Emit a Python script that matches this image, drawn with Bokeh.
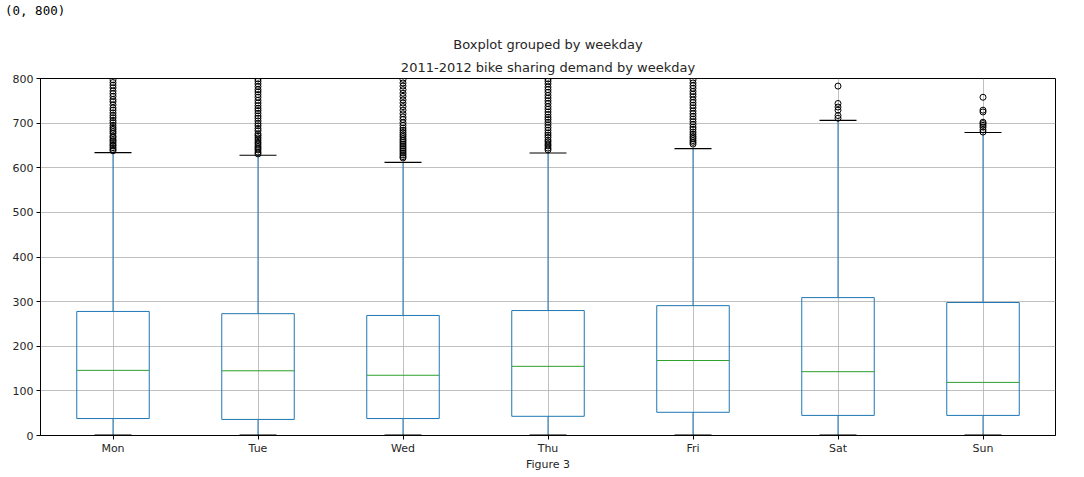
from bokeh.plotting import figure
from bokeh.models import FactorRange, Title, FixedTicker, Div
from bokeh.layouts import column
from bokeh.embed import file_html
from bokeh.resources import INLINE

days = ["Mon", "Tue", "Wed", "Thu", "Fri", "Sat", "Sun"]
q1 = [38, 36, 38, 43, 52, 45, 45]
median = [146, 145, 135, 155, 168, 143, 119]
q3 = [278, 273, 269, 280, 291, 309, 298]
whisker_low = [1, 1, 1, 1, 1, 1, 1]
whisker_high = [634, 628, 612, 633, 643, 706, 679]
outliers = {
    "Mon": [638, 641, 645, 649, 652, 656, 660, 663, 668, 671, 677, 681, 686, 690, 695, 701, 706, 712, 717, 723, 729, 734, 741, 748, 753, 760, 766, 772, 779, 785, 791, 797, 812, 834, 857, 886, 917, 968],
    "Tue": [631, 635, 640, 644, 648, 653, 657, 662, 667, 672, 676, 683, 688, 694, 699, 705, 711, 716, 722, 728, 733, 739, 745, 751, 758, 764, 770, 775, 782, 788, 794, 799, 815, 839, 868, 901, 943, 970],
    "Wed": [622, 625, 629, 633, 637, 641, 645, 649, 653, 657, 661, 665, 670, 674, 679, 684, 689, 695, 701, 708, 714, 721, 729, 737, 745, 752, 760, 767, 775, 783, 790, 798, 821, 848, 873, 899, 925, 977],
    "Thu": [640, 644, 649, 653, 658, 662, 668, 673, 678, 684, 690, 696, 702, 708, 713, 719, 725, 731, 737, 744, 750, 756, 762, 769, 775, 781, 788, 794, 799, 818, 845, 876, 911, 949],
    "Fri": [653, 657, 661, 666, 670, 675, 680, 686, 691, 697, 703, 709, 715, 721, 727, 734, 740, 746, 752, 759, 765, 771, 778, 784, 790, 797, 816, 843, 872, 900, 948],
    "Sat": [711, 717, 729, 736, 744, 783],
    "Sun": [680, 685, 691, 695, 699, 702, 725, 729, 758],
}
y_ticks = [0, 100, 200, 300, 400, 500, 600, 700, 800]
console_text = "(0, 800)"

FONT = "DejaVu Sans"
TXT = "#262626"

div = Div(text=console_text, width=1084, height=22,
          styles={"font-family": "DejaVu Sans Mono", "font-size": "12.5px", "color": "#000000",
                  "line-height": "22px", "padding-left": "5px", "margin": "0"})

p = figure(x_range=FactorRange(*days), y_range=(0, 800),
           width=1084, height=455, output_backend="svg", toolbar_location=None,
           min_border_left=40, min_border_right=29, min_border_bottom=42, min_border_top=56)

p.title.text = "Boxplot grouped by weekday"
p.title.align = "center"
p.title.standoff = 3
p.title.text_font = FONT
p.title.text_font_size = "13px"
p.title.text_font_style = "normal"
p.title.text_color = TXT
p.add_layout(Title(text="2011-2012 bike sharing demand by weekday", align="center", text_font=FONT,
                   text_font_size="13px", text_font_style="normal", text_color=TXT,
                   standoff=8), "above")

# whiskers
p.segment(x0=days, y0=q3, x1=days, y1=whisker_high, line_color="#1f77b4", line_width=1)
p.segment(x0=days, y0=q1, x1=days, y1=whisker_low, line_color="#1f77b4", line_width=1)
# boxes
p.vbar(x=days, top=q3, bottom=q1, width=0.5, fill_color=None, line_color="#1f77b4", line_width=1)
# medians
p.scatter(x=days, y=median, marker="dash", size=72, line_color="#2ca02c", line_width=1)
# caps
p.scatter(x=days, y=whisker_high, marker="dash", size=37, line_color="black", line_width=1.2)
p.scatter(x=days, y=whisker_low, marker="dash", size=37, line_color="black", line_width=1.2)
# fliers
fx, fy = [], []
for d in days:
    for v in outliers[d]:
        fx.append(d)
        fy.append(v)
p.scatter(x=fx, y=fy, marker="circle", size=6, fill_color=None, line_color="black", line_width=1)

p.yaxis.ticker = FixedTicker(ticks=y_ticks)
p.xaxis.axis_label = "Figure 3"
for ax in (p.xaxis, p.yaxis):
    ax.major_label_text_font = FONT
    ax.major_label_text_font_size = "11px"
    ax.major_label_text_color = TXT
    ax.axis_label_text_font = FONT
    ax.axis_label_text_font_size = "11px"
    ax.axis_label_text_font_style = "normal"
    ax.axis_label_text_color = TXT
    ax.axis_line_color = "black"
    ax.major_tick_line_color = "black"
    ax.major_tick_out = 4
    ax.major_tick_in = 0
    ax.minor_tick_line_color = None
    ax.axis_label_standoff = 0
    ax.major_label_standoff = 2
p.yaxis.major_label_standoff = 3
p.grid.grid_line_color = "#b0b0b0"
p.grid.grid_line_width = 0.8
p.outline_line_color = "black"
p.outline_line_alpha = 1
p.background_fill_color = "white"

layout = column(div, p, spacing=0)
open("out.html", "w").write(file_html(layout, INLINE))
